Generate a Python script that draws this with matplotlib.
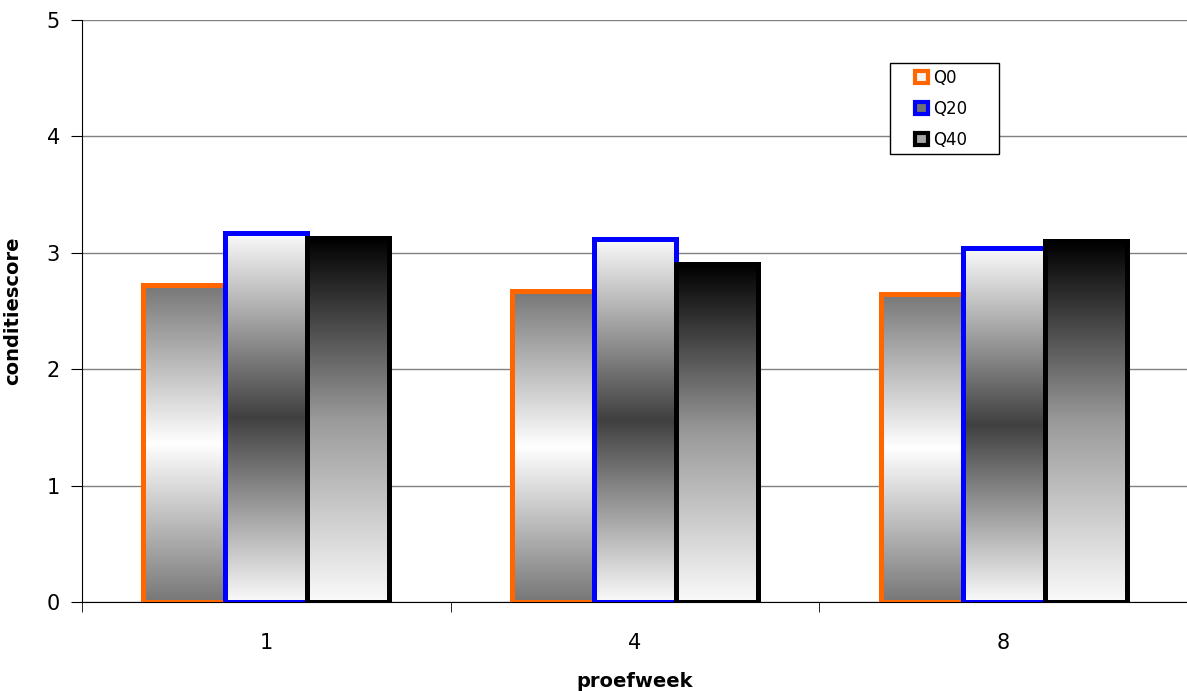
import numpy as np
import matplotlib
matplotlib.use("Agg")
import matplotlib.pyplot as plt
from matplotlib.colors import LinearSegmentedColormap
from matplotlib.patches import Patch, Rectangle

# conditiescore per proefweek
weeks = ["1", "4", "8"]
series = ["Q0", "Q20", "Q40"]
q0 = [2.72, 2.67, 2.65]
q20 = [3.17, 3.12, 3.04]
q40 = [3.13, 2.90, 3.10]
values = [q0, q20, q40]

edge_colors = ["#ff6600", "#0000ff", "#000000"]
swatch_colors = ["#f4f4f4", "#707070", "#a8a8a8"]
# vertical fill gradients, bottom -> top
fills = [
    LinearSegmentedColormap.from_list("q0", ["#777777", "#ffffff", "#777777"]),
    LinearSegmentedColormap.from_list("q20", ["#fafafa", "#404040", "#fafafa"]),
    LinearSegmentedColormap.from_list("q40", ["#fafafa", "#9a9a9a", "#000000"]),
]

fig = plt.figure(figsize=(11.87, 6.91), dpi=100)
ax = fig.add_axes([82 / 1187, 89 / 691, 1106 / 1187, 582 / 691])

x = np.arange(len(weeks))
width = 1 / 4.5
grad = np.linspace(0, 1, 256).reshape(-1, 1)

for i, vals in enumerate(values):
    for j, v in enumerate(vals):
        x0 = x[j] - 1.5 * width + i * width
        ax.imshow(grad, extent=[x0, x0 + width, 0, v], origin="lower",
                  aspect="auto", cmap=fills[i], zorder=2)
        ax.bar(x0, v, width, align="edge", facecolor="none",
               edgecolor=edge_colors[i], linewidth=3.6, zorder=3)

ax.set_xlim(-0.5, 2.5)
ax.set_ylim(0, 5)
ax.set_xticks(x)
ax.set_xticklabels(weeks)
ax.set_xticks([-0.5, 0.5, 1.5, 2.5], minor=True)
ax.tick_params(axis="x", which="major", length=0, pad=22, labelsize=15)
ax.tick_params(axis="x", which="minor", length=7, direction="out")
ax.set_yticks(range(6))
ax.tick_params(axis="y", length=8, direction="out", pad=8, labelsize=15)

ax.grid(axis="y", color="#808080", linewidth=1, zorder=0)
ax.set_axisbelow(True)
for s in ["top", "right"]:
    ax.spines[s].set_visible(False)

ax.set_xlabel("proefweek", fontsize=14, fontweight="bold", labelpad=14)
ax.set_ylabel("conditiescore", fontsize=14, fontweight="bold")
ax.yaxis.set_label_coords(-0.054, 0.5)

# legend box drawn separately so the entries sit centred in it
ax.add_patch(Rectangle((0.731, 0.7698), 0.0977, 0.1564, transform=ax.transAxes,
                       facecolor="white", edgecolor="black", linewidth=1, zorder=5))
handles = [Patch(facecolor=f, edgecolor=c, linewidth=3)
           for f, c in zip(swatch_colors, edge_colors)]
leg = ax.legend(handles, series, loc="upper left", bbox_to_anchor=(0.753, 0.916),
                fontsize=12, frameon=False, handlelength=0.8, handleheight=0.8,
                handletextpad=0.3, labelspacing=0.78, borderpad=0, borderaxespad=0)
leg.set_zorder(6)

fig.savefig("out.png", dpi=100)
